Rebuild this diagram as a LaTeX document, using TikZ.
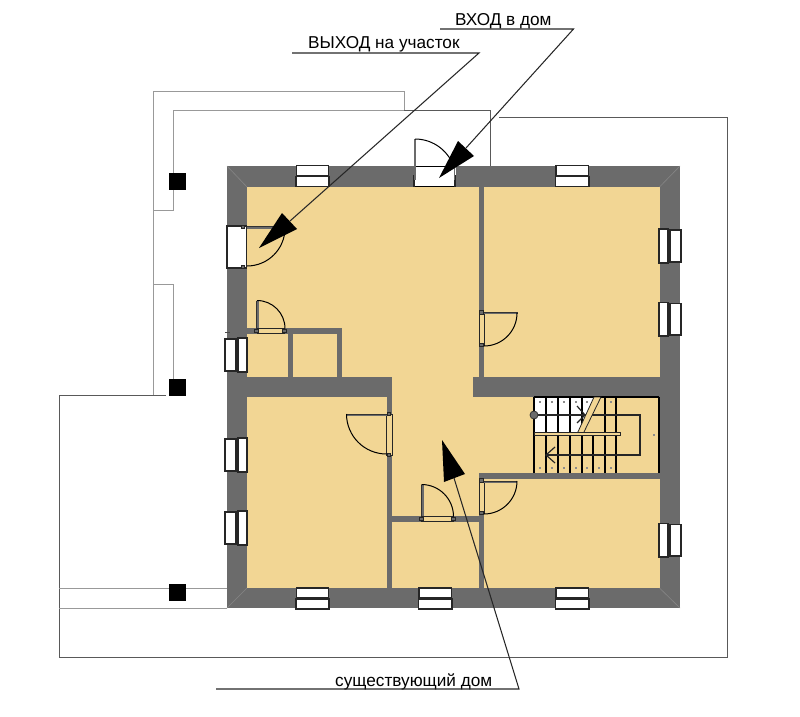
\documentclass[tikz,border=0pt]{standalone}
\usepackage{fontspec}
\setmainfont{Liberation Sans}
\definecolor{wallc}{HTML}{6B6B6B}
\definecolor{sand}{HTML}{F2D694}
\definecolor{plotline}{HTML}{999999}
\definecolor{miter}{HTML}{858585}
\tikzset{
  wallfill/.style={fill=wallc,draw=none},
  plotthin/.style={draw=plotline,line width=1pt},
  plotdark/.style={draw=black!65,line width=1pt},
  leader/.style={draw=black!85,line width=1.05pt},
  winbox/.style={draw=black!85,fill=white,line width=1.1pt},
  winbar/.style={draw=black!85,line width=2.6pt},
  doorframe/.style={draw=black!85,fill=sand,line width=1pt},
  leaf/.style={draw=black!80,line width=0.9pt},
  swing/.style={draw=black,line width=1pt},
  tread/.style={draw=black,line width=1.4pt},
  post/.style={fill=black,draw=none},
  labeltext/.style={font=\fontsize{17.2pt}{20pt}\selectfont,inner sep=0pt,text=black},
  head/.style={fill=black,draw=none}
}
\newcommand{\hwin}[3]{% x1 x2 ytop (21 high)
  \path[winbox] (#1+0.5,#3) rectangle (#2-0.5,#3+10);
  \path[winbox] (#1,#3+11) rectangle (#2,#3+21);
  \draw[winbar] (#1,#3+10.5) -- (#2,#3+10.5);}
\newcommand{\rwin}[2]{% y1 y2, right wall
  \path[winbox] (659,#1) rectangle (668,#2);
  \path[winbox] (670,#1+1) rectangle (681,#2-1);
  \draw[winbar] (669,#1) -- (669,#2);}
\newcommand{\lwin}[2]{% y1 y2, left wall
  \path[winbox] (225,#1+1) rectangle (236,#2-1);
  \path[winbox] (238,#1) rectangle (247,#2);
  \draw[winbar] (237,#1) -- (237,#2);}
\newcommand{\jamb}[2]{\draw[draw=black!85,fill=wallc,line width=0.8pt] (#1-1.8,#2-1.8) rectangle (#1+1.8,#2+1.8);}
\newcommand{\stairdot}[2]{\fill[black!45] (#1-1,#2-1) rectangle (#1+1,#2+1);}
\begin{document}
\begin{tikzpicture}[x=1pt,y=-1pt]
\useasboundingbox (0,0) rectangle (800,717);
% site outlines
\path[plotthin] (153,395) -- (153,91) -- (404,91) -- (404,110) -- (173,110) -- (173,210) -- (153,210);
\path[plotthin] (153,284) -- (173,284) -- (173,380);
\path[plotdark] (404,110) -- (490,110) -- (490,166);
\path[plotdark] (166,395) -- (59,395) -- (59,657) -- (727.5,657) -- (727.5,117) -- (499,117);
\path[plotthin] (59,588) -- (227,588);
\path[plotthin] (59,608) -- (227,608);
\fill[post] (169,173) rectangle (186,190);
\fill[post] (169,379) rectangle (186,396);
\fill[post] (169,584) rectangle (186,601);
% walls and floor
\path[wallfill] (227,166) rectangle (680,608);
\fill[sand] (247,187) rectangle (659.5,588);
\draw[miter,line width=0.6pt] (227,166) -- (247,187) (680,166) -- (659.5,187) (227,608) -- (247,588) (680,608) -- (659.5,588);
\path[wallfill] (479,187) rectangle (484,377);
\path[wallfill] (247,377) rectangle (392,397);
\path[wallfill] (473,377) rectangle (660,397);
\path[wallfill] (386.5,397) rectangle (392,588);
\path[wallfill] (247,328) rectangle (342,333.5);
\path[wallfill] (336.5,328) rectangle (342,377);
\path[wallfill] (288,333) rectangle (293,377);
\path[wallfill] (392,516) rectangle (484,522);
\path[wallfill] (479,473) rectangle (660,479);
\path[wallfill] (479,473) rectangle (484,588);
\draw[black!70,line width=0.8pt] (225,332.5) -- (230,332.5);
% windows
\hwin{296}{329}{165.5}
\hwin{555.5}{589}{165.5}
\hwin{296}{329}{588}
\hwin{418.5}{452}{588}
\hwin{555.5}{589}{588}
\rwin{229}{263}
\rwin{302.5}{336}
\rwin{523.5}{557}
\lwin{338}{372}
\lwin{438}{472}
\lwin{511}{545}
% exit door (left wall)
\path[draw=black!85,fill=white,line width=1.1pt] (227,226) rectangle (246.5,268);
\draw[wallc,line width=2pt] (247,227.5) -- (285,227.5);
\draw[leaf] (247,226) -- (285,226) -- (285,228);
\draw[swing] (285,228) arc[start angle=0,end angle=-90,radius=38pt];
\jamb{243}{227}\jamb{243}{267}
% entrance door (top wall)
\path[fill=white,draw=none] (414,166) rectangle (456,186.5);
\draw[black,line width=1pt] (414,186.5) -- (456,186.5) (414,166) -- (456,166);
\draw[wallc,line width=2.4pt] (415,139) -- (415,166);
\draw[swing] (415,139) arc[start angle=90,end angle=15,radius=41pt];
\draw[black!85,line width=1.1pt] (414,175) -- (414,186.5) (455,175) -- (455,186.5);
\draw[wallc,line width=1.6pt] (415,166) -- (415,180) (454.5,166) -- (454.5,180);
% door to right room
\path[doorframe] (479,313) rectangle (484,345);
\draw[wallc,line width=1.8pt] (484,313.5) -- (517,313.5);
\draw[leaf] (484,312) -- (517,312) -- (517,314);
\draw[swing] (517,313) arc[start angle=0,end angle=-90,radius=33pt];
\jamb{481.5}{312.5}\jamb{481.5}{345}
% closet door
\path[doorframe] (257,328.5) rectangle (284,333.5);
\draw[wallc,line width=2pt] (258,300.5) -- (258,328);
\draw[leaf] (256.5,300.5) -- (256.5,329);
\draw[swing] (257,300.5) arc[start angle=90,end angle=0,radius=28pt];
\jamb{256.5}{331}\jamb{284.5}{331}
% door to lower-left room
\path[doorframe] (386.5,414) rectangle (392,455);
\draw[wallc,line width=1.8pt] (346.5,415.5) -- (386.5,415.5);
\draw[leaf] (346.5,414) -- (386.5,414);
\draw[swing] (346.5,414) arc[start angle=180,end angle=270,radius=40pt];
\jamb{389}{414}\jamb{389}{455}
% bathroom door
\path[doorframe] (421.5,516.5) rectangle (453.5,521.5);
\draw[wallc,line width=2pt] (423,484.5) -- (423,516);
\draw[leaf] (421.5,484.5) -- (421.5,516);
\draw[swing] (421.5,484.5) arc[start angle=90,end angle=0,radius=32pt];
\jamb{421.5}{519}\jamb{453.5}{519}
% lower-right door
\path[doorframe] (479,481) rectangle (484,513);
\draw[wallc,line width=1.8pt] (484,482.5) -- (517,482.5);
\draw[leaf] (484,481) -- (517,481);
\draw[swing] (517,481) arc[start angle=0,end angle=-90,radius=33pt];
\jamb{481.5}{480.5}\jamb{481.5}{513}
% stairs
\fill[white] (534,397) -- (597,397) -- (579,433) -- (534,433) -- cycle;
\foreach \x in {546,558,570,582,593,605}{\stairdot{\x-6}{468}}
\stairdot{611}{468}
\foreach \x in {540,552,564,576,587,611}{\stairdot{\x}{402}}
\stairdot{654}{435}
\foreach \x in {546,558,570,582}{\draw[tread] (\x,397) -- (\x,433);}
\draw[tread] (605,397) -- (605,433);
\draw[tread] (616,397) -- (616,473);
\foreach \x in {546,558,570,582,593,605}{\draw[tread] (\x,434) -- (\x,473);}
\draw[tread] (534,397) -- (534,473);
\draw[tread] (659,397) -- (659,473);
\draw[tread] (534,397) -- (659,397);
\draw[black!85,line width=1.2pt] (534,415) -- (640,415) -- (640,455) -- (546,455);
\draw[black!85,line width=1.2pt] (555,447) -- (546,455) -- (555,463);
\draw[black!85,line width=1.2pt] (577,406) -- (585,415) -- (577,423);
\path[draw=black!85,fill=sand,line width=0.8pt] (577,434) -- (594,397) -- (601,397) -- (583,434) -- cycle;
\path[draw=black!85,fill=sand,line width=0.8pt] (534,432.5) rectangle (620,435.5);
\draw[fill=wallc,draw=black!80,line width=0.8pt] (534,415) circle (4pt);
% labels and leaders
\node[labeltext,anchor=base west] (inlabel) at (455,26) {ВХОД в дом};
\node[labeltext,anchor=base west] (outlabel) at (308,48.5) {ВЫХОД на участок};
\node[labeltext,anchor=base west] (houselabel) at (335,686) {существующий дом};
\coordinate (inA) at (440,29); \coordinate (inB) at (573.5,29); \coordinate (inC) at (466,148);
\coordinate (outA) at (292,53); \coordinate (outB) at (479,53); \coordinate (outC) at (290,221);
\coordinate (hA) at (216,689); \coordinate (hB) at (519,689); \coordinate (hC) at (454,478);
\path[leader] (inA) -- (inB) -- (inC);
\path[leader] (outA) -- (outB) -- (outC);
\path[leader] (hA) -- (hB) -- (hC);
\fill[head] (439,178) -- (458,141) -- (474,156) -- cycle;
\fill[head] (259,248) -- (282,213) -- (297,229) -- cycle;
\fill[head] (442,440) -- (444,482) -- (465,474) -- cycle;
\end{tikzpicture}
\end{document}
